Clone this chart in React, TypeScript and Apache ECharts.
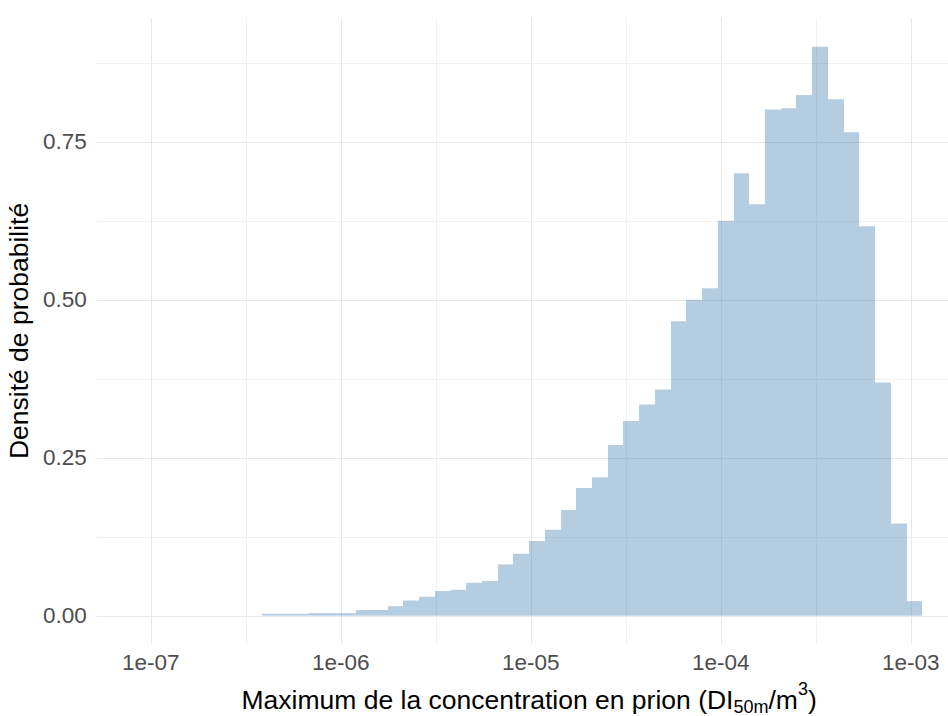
import React, { useEffect, useRef } from "react";
import * as echarts from "echarts";

// Histogram bins on a log10 scale
const binStart = -7.077; // log10 of left edge of first bin
const binWidth = 0.08276; // width of each bin in log10 units
const density = [
  0, 0, 0, 0, 0, 0, 0, 0,
  0.003, 0.003, 0.003, 0.004, 0.004, 0.004, 0.009, 0.009, 0.015, 0.024,
  0.03, 0.039, 0.041, 0.052, 0.055, 0.081, 0.098, 0.118, 0.136, 0.167,
  0.202, 0.219, 0.27, 0.308, 0.334, 0.358, 0.466, 0.5, 0.518, 0.625,
  0.7, 0.651, 0.801, 0.803, 0.824, 0.9, 0.817, 0.765, 0.616, 0.369,
  0.146, 0.023,
];

// Axis ticks
const xTickValues = [-7, -6, -5, -4, -3];
const xTickLabels = ["1e-07", "1e-06", "1e-05", "1e-04", "1e-03"];
const xMinorValues = [-6.5, -5.5, -4.5, -3.5];
const yTickValues = [0, 0.25, 0.5, 0.75];
const yTickLabels = ["0.00", "0.25", "0.50", "0.75"];
const yMinorValues = [0.125, 0.375, 0.625, 0.875];

const X_MIN = -7.284;
const X_MAX = -2.732;
const Y_MIN = -0.045;
const Y_MAX = 0.946;

const FONT = "'Liberation Sans', Arial, Helvetica, sans-serif";

export default function App() {
  const ref = useRef<HTMLDivElement>(null);

  useEffect(() => {
    if (!ref.current) return;
    const chart = echarts.init(ref.current, undefined, { renderer: "svg" });

    const bars = density.map((d, i) => [
      binStart + i * binWidth,
      binStart + (i + 1) * binWidth,
      d,
    ]);

    const gridData: number[][] = [];
    xTickValues.forEach((v) => gridData.push([v, 0, 0]));
    xMinorValues.forEach((v) => gridData.push([v, 0, 1]));
    yTickValues.forEach((v) => gridData.push([X_MIN, v, 2]));
    yMinorValues.forEach((v) => gridData.push([X_MIN, v, 3]));

    const option: any = {
      animation: false,
      backgroundColor: "#ffffff",
      textStyle: { fontFamily: FONT },
      grid: {
        left: 96.7,
        right: -13.6,
        top: 17.8,
        bottom: 71.9,
        containLabel: false,
        outerBoundsMode: "none",
      },
      xAxis: {
        type: "value",
        min: X_MIN,
        max: X_MAX,
        axisLine: { show: false },
        axisTick: { show: false },
        splitLine: { show: false },
        axisLabel: {
          customValues: xTickValues,
          formatter: (v: number) => {
            const i = xTickValues.findIndex((t) => Math.abs(t - v) < 1e-9);
            return i >= 0 ? xTickLabels[i] : "";
          },
          color: "#4d4d4d",
          fontSize: 22.5,
          fontFamily: FONT,
          margin: 7,
        },
        name: "Maximum de la concentration en prion (DI{sub|50m}/m{sup|3})",
        nameLocation: "middle",
        nameGap: 36,
        nameTextStyle: {
          color: "#000000",
          fontSize: 26.5,
          fontFamily: FONT,
          rich: {
            sub: { fontSize: 18, fontFamily: FONT, color: "#000000", padding: [14, 0, 0, 0] },
            sup: { fontSize: 18, fontFamily: FONT, color: "#000000", padding: [0, 0, 22, 0] },
          },
        },
      },
      yAxis: {
        type: "value",
        min: Y_MIN,
        max: Y_MAX,
        axisLine: { show: false },
        axisTick: { show: false },
        splitLine: { show: false },
        axisLabel: {
          customValues: yTickValues,
          formatter: (v: number) => {
            const i = yTickValues.findIndex((t) => Math.abs(t - v) < 1e-9);
            return i >= 0 ? yTickLabels[i] : "";
          },
          color: "#4d4d4d",
          fontSize: 22.5,
          fontFamily: FONT,
          margin: 10,
        },
        name: "Densité de probabilité",
        nameLocation: "middle",
        nameGap: 46,
        nameTextStyle: {
          color: "#000000",
          fontSize: 26.5,
          fontFamily: FONT,
        },
      },
      series: [
        {
          type: "custom",
          name: "grid",
          silent: true,
          z: 0,
          data: gridData,
          encode: { x: 0, y: 1 },
          renderItem: (params: any, api: any) => {
            const cs = params.coordSys;
            const kind = api.value(2);
            const minor = kind === 1 || kind === 3;
            const style = {
              stroke: minor ? "#f0f0f0" : "#e8e8e8",
              lineWidth: 1,
            };
            if (kind === 0 || kind === 1) {
              const x = Math.round(api.coord([api.value(0), 0])[0]) + 0.5;
              return {
                type: "line",
                shape: { x1: x, y1: cs.y, x2: x, y2: cs.y + cs.height },
                style,
              };
            }
            const y = Math.round(api.coord([X_MIN, api.value(1)])[1]) + 0.5;
            return {
              type: "line",
              shape: { x1: cs.x, y1: y, x2: cs.x + cs.width, y2: y },
              style,
            };
          },
        },
        {
          type: "custom",
          name: "density",
          z: 2,
          data: bars,
          encode: { x: [0, 1], y: 2 },
          renderItem: (params: any, api: any) => {
            const h = api.value(2);
            if (!h) return null;
            const p0 = api.coord([api.value(0), h]);
            const p1 = api.coord([api.value(1), 0]);
            const x0 = Math.round(p0[0]);
            const x1 = Math.round(p1[0]);
            return {
              type: "rect",
              shape: { x: x0, y: p0[1], width: x1 - x0, height: p1[1] - p0[1] },
              style: { fill: "rgba(70,130,180,0.4)" },
            };
          },
        },
      ],
    };

    chart.setOption(option);
    return () => chart.dispose();
  }, []);

  return (
    <div
      ref={ref}
      style={{ position: "absolute", left: 0, top: 0, width: 948, height: 716, background: "#fff" }}
    />
  );
}
